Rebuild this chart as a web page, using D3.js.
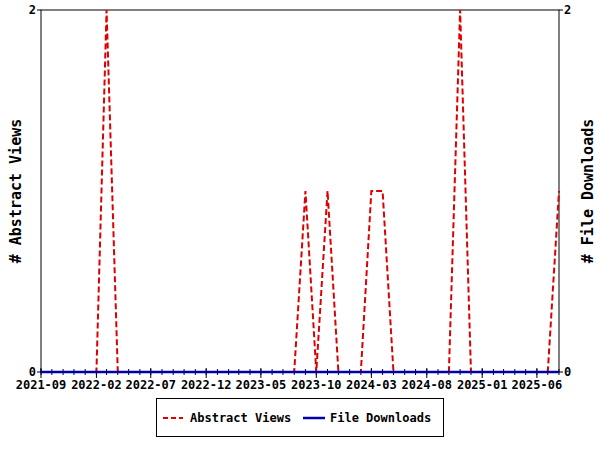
<!DOCTYPE html>
<html>
<head>
<meta charset="utf-8">
<script src="https://cdn.jsdelivr.net/npm/d3@7"></script>
<style>
  body { margin: 0; background: #fff; }
  text { font-family: "DejaVu Sans Mono", monospace; font-weight: bold; }
</style>
</head>
<body>
<div id="chart"></div>
<script>
// monthly counts, 2021-09 .. 2025-08
const months = [
  "2021-09","2021-10","2021-11","2021-12","2022-01","2022-02","2022-03","2022-04",
  "2022-05","2022-06","2022-07","2022-08","2022-09","2022-10","2022-11","2022-12",
  "2023-01","2023-02","2023-03","2023-04","2023-05","2023-06","2023-07","2023-08",
  "2023-09","2023-10","2023-11","2023-12","2024-01","2024-02","2024-03","2024-04",
  "2024-05","2024-06","2024-07","2024-08","2024-09","2024-10","2024-11","2024-12",
  "2025-01","2025-02","2025-03","2025-04","2025-05","2025-06","2025-07","2025-08"
];
const abstractViews = [
  0,0,0,0,0,0,2,0,
  0,0,0,0,0,0,0,0,
  0,0,0,0,0,0,0,0,
  1,0,1,0,0,0,1,1,
  0,0,0,0,0,0,2,0,
  0,0,0,0,0,0,0,1
];
const fileDownloads = [
  0,0,0,0,0,0,0,0,
  0,0,0,0,0,0,0,0,
  0,0,0,0,0,0,0,0,
  0,0,0,0,0,0,0,0,
  0,0,0,0,0,0,0,0,
  0,0,0,0,0,0,0,0
];
const tickLabels = ["2021-09","2022-02","2022-07","2022-12","2023-05","2023-10","2024-03","2024-08","2025-01","2025-06"];
const yTicks = [0, 2];

const width = 600, height = 450;
const margin = { top: 10, right: 41, bottom: 78, left: 41 };
const parse = d3.timeParse("%Y-%m");
const dates = months.map(parse);

const svg = d3.select("#chart").append("svg")
  .attr("width", width).attr("height", height);

const x = d3.scaleTime()
  .domain(d3.extent(dates))
  .range([margin.left, width - margin.right]);
const y = d3.scaleLinear()
  .domain([0, 2])
  .range([height - margin.bottom, margin.top]);

// frame
svg.append("rect")
  .attr("x", margin.left).attr("y", margin.top)
  .attr("width", width - margin.left - margin.right)
  .attr("height", height - margin.top - margin.bottom)
  .attr("fill", "none").attr("stroke", "#000").attr("stroke-width", 1);

const baseY = y(0);

// minor month ticks
svg.append("g").selectAll("line")
  .data(dates).enter().append("line")
  .attr("x1", d => x(d)).attr("x2", d => x(d))
  .attr("y1", baseY - 3).attr("y2", baseY + 3)
  .attr("stroke", "#000");

// major ticks + labels
const major = tickLabels.map(parse);
const xg = svg.append("g");
xg.selectAll("line").data(major).enter().append("line")
  .attr("x1", d => x(d)).attr("x2", d => x(d))
  .attr("y1", baseY - 4).attr("y2", baseY + 6)
  .attr("stroke", "#000");
xg.selectAll("text").data(tickLabels).enter().append("text")
  .attr("x", d => x(parse(d))).attr("y", baseY + 17)
  .attr("text-anchor", "middle").attr("font-size", 12)
  .text(d => d);

// y ticks both sides
const yl = svg.append("g");
yl.selectAll("line.l").data(yTicks).enter().append("line")
  .attr("x1", margin.left - 4).attr("x2", margin.left)
  .attr("y1", d => y(d)).attr("y2", d => y(d)).attr("stroke", "#000");
yl.selectAll("text.l").data(yTicks).enter().append("text")
  .attr("x", margin.left - 5).attr("y", d => y(d) + 4)
  .attr("text-anchor", "end").attr("font-size", 12).text(d => d);
yl.selectAll("line.r").data(yTicks).enter().append("line")
  .attr("x1", width - margin.right).attr("x2", width - margin.right + 4)
  .attr("y1", d => y(d)).attr("y2", d => y(d)).attr("stroke", "#000");
yl.selectAll("text.r").data(yTicks).enter().append("text")
  .attr("x", width - margin.right + 5).attr("y", d => y(d) + 4)
  .attr("text-anchor", "start").attr("font-size", 12).text(d => d);

// axis titles
svg.append("text")
  .attr("transform", `translate(21,${(margin.top + baseY) / 2}) rotate(-90)`)
  .attr("text-anchor", "middle").attr("font-size", 15)
  .text("# Abstract Views");
svg.append("text")
  .attr("transform", `translate(593,${(margin.top + baseY) / 2}) rotate(-90)`)
  .attr("text-anchor", "middle").attr("font-size", 15)
  .text("# File Downloads");

const line = d3.line()
  .x((d, i) => x(dates[i]))
  .y(d => y(d));

svg.append("path")
  .attr("d", line(abstractViews))
  .attr("fill", "none").attr("stroke", "#dd0000")
  .attr("stroke-width", 2).attr("stroke-dasharray", "6,3");

svg.append("path")
  .attr("d", line(fileDownloads))
  .attr("fill", "none").attr("stroke", "#0000aa")
  .attr("stroke-width", 2.5);

// legend
const lg = svg.append("g");
lg.append("rect")
  .attr("x", 156.5).attr("y", 398.5).attr("width", 287).attr("height", 38)
  .attr("fill", "#fff").attr("stroke", "#000");
lg.append("line")
  .attr("x1", 163).attr("x2", 183).attr("y1", 418).attr("y2", 418)
  .attr("stroke", "#dd0000").attr("stroke-width", 2).attr("stroke-dasharray", "5,3");
lg.append("text").attr("x", 190).attr("y", 422).attr("font-size", 12).text("Abstract Views");
lg.append("line")
  .attr("x1", 303).attr("x2", 325).attr("y1", 418).attr("y2", 418)
  .attr("stroke", "#0000aa").attr("stroke-width", 2.5);
lg.append("text").attr("x", 330).attr("y", 422).attr("font-size", 12).text("File Downloads");
</script>
</body>
</html>
